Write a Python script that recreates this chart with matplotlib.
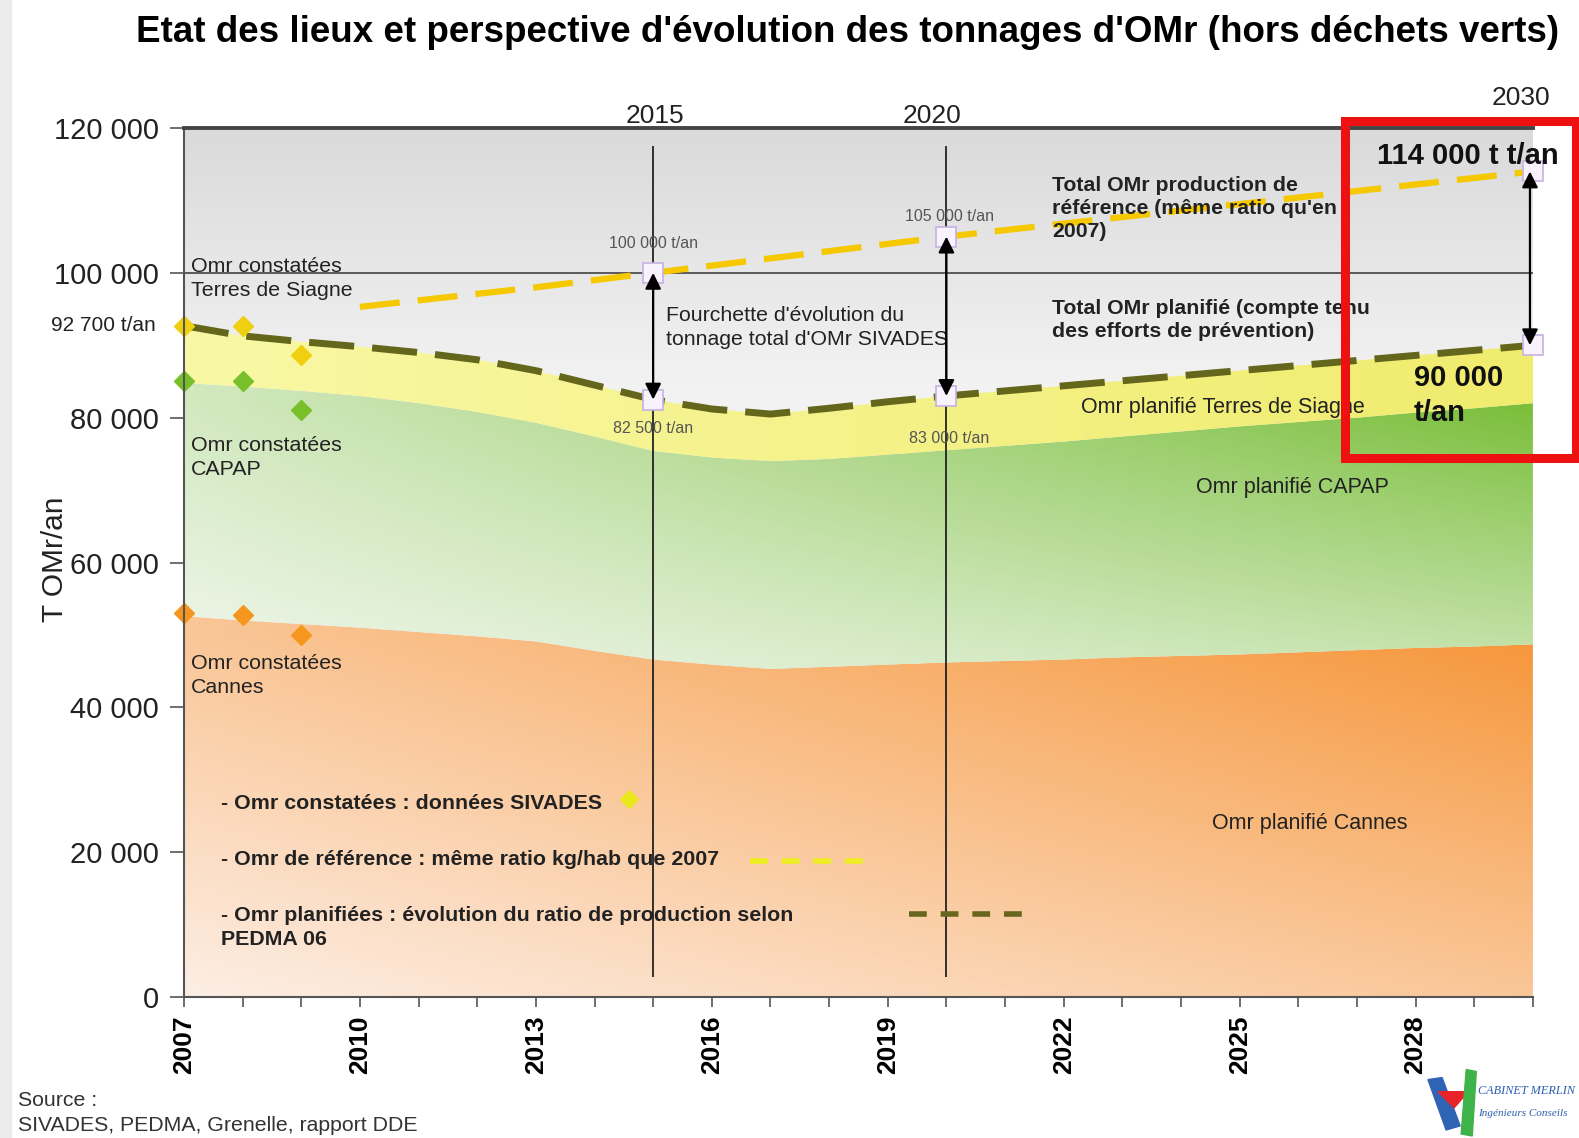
import numpy as np
import matplotlib
matplotlib.use("Agg")
import matplotlib.pyplot as plt
from matplotlib.patches import Rectangle, Polygon

plt.rcParams['font.family'] = ['Liberation Sans', 'DejaVu Sans']

# --- data ---
years = list(range(2007, 2031))
cannes = [52600, 52000, 51500, 51000, 50400, 49800, 49100, 47800, 46600, 45900, 45300, 45600,
          45900, 46200, 46400, 46600, 46900, 47100, 47300, 47600, 47900, 48200, 48400, 48700]
capap = [32200, 32300, 32200, 32000, 31600, 31000, 30200, 29600, 28800, 28600, 28700, 28700,
         29000, 29300, 29700, 30100, 30500, 31000, 31500, 31800, 32100, 32500, 32900, 33300]
terres = [7900, 7000, 6800, 6800, 7000, 7200, 7200, 7100, 7100, 6700, 6500, 7000,
          7300, 7500, 7600, 7700, 7700, 7700, 7700, 7800, 7900, 7900, 8000, 8000]

ref_years = list(range(2010, 2031))
reference = [95300, 96200, 97100, 98000, 99000, 100000, 101000, 102000, 103000, 104000, 105000,
             105900, 106800, 107700, 108600, 109500, 110400, 111300, 112200, 113100, 114000]

obs_years = [2007, 2008, 2009]
obs_total = [92700, 92600, 88600]
obs_capap = [85000, 85000, 81100]
obs_cannes = [53000, 52800, 50000]

key_years = [2015, 2015, 2020, 2020, 2030, 2030]
key_values = [100000, 82500, 105000, 83000, 114000, 90000]

y_ticks = [0, 20000, 40000, 60000, 80000, 100000, 120000]
y_labels = ["0", "20 000", "40 000", "60 000", "80 000", "100 000", "120 000"]
x_labels = [str(y) if (y - 2007) % 3 == 0 else "" for y in years]

c_top = np.array(cannes)
cap_top = c_top + np.array(capap)
tot_top = cap_top + np.array(terres)

fig = plt.figure(figsize=(15.79, 11.38), dpi=100)
fig.patches.append(Rectangle((0, 0), 0.007, 1, transform=fig.transFigure, color='#ececec', zorder=-1))
ax = fig.add_axes([0.1165, 0.1239, 0.8543, 0.7636])

# gradient fills
ext = [2007, 2030, 0, 120000]
gx, gy = np.meshgrid(np.linspace(2007, 2030, 240), np.linspace(0, 120000, 400))
v = (gx - 2007) / 23.0


def mix(light, dark, t):
    light = np.array(light) / 255.0
    dark = np.array(dark) / 255.0
    t = np.clip(t, 0, 1)[..., None]
    return light * (1 - t) + dark * t


def clipped_image(rgb, lower, upper, z):
    poly = ax.fill_between(years, lower, upper, facecolor='none', edgecolor='none')
    im = ax.imshow(rgb, extent=ext, origin='lower', aspect='auto', zorder=z, interpolation='bilinear')
    im.set_clip_path(poly.get_paths()[0], transform=ax.transData)


# background grey
tb = np.clip((gy - 85000) / 35000, 0, 1)
bg = mix((242, 242, 242), (218, 218, 218), tb)
ax.imshow(bg, extent=ext, origin='lower', aspect='auto', zorder=0, interpolation='bilinear')

u = np.clip(gy / 50000, 0, 1)
clipped_image(mix((253, 238, 228), (246, 150, 58), u * (0.45 + 0.55 * v) + 0.45 * v * (1 - u)),
              np.zeros(len(years)), c_top, 1)
u = np.clip((gy - 46000) / 36000, 0, 1)
clipped_image(mix((240, 247, 236), (122, 190, 58), u * (0.25 + 0.75 * v) + 0.35 * v * (1 - u)),
              c_top, cap_top, 1)
clipped_image(mix((249, 248, 165), (240, 236, 110), v), cap_top, tot_top, 1)

ax.axhline(100000, color='#333333', lw=1.1, zorder=2)

# lines
ax.plot(years, tot_top, color='#64661c', lw=5, dashes=(6.5, 2.6), zorder=4)
ax.plot(ref_years, reference, color='#f5c800', lw=4.5, dashes=(6.4, 2.9), zorder=4)

# observed points
ax.plot(obs_years, obs_total, 'D', color='#f0cf10', ms=10, zorder=5, clip_on=False)
ax.plot(obs_years, obs_capap, 'D', color='#78bf2a', ms=10, zorder=5, clip_on=False)
ax.plot(obs_years, obs_cannes, 'D', color='#f5961e', ms=10, zorder=5, clip_on=False)

# vertical markers and arrows
ax.vlines([2015, 2020], 2800, 117500, color='#222222', lw=1.3, zorder=5)
ax.plot(key_years, key_values, 's', ms=15, mfc='#f7f2fb', mec='#c6b2e4', mew=1.2, zorder=6, clip_on=False)
for i in range(0, 6, 2):
    xa = key_years[i] - (0.05 if key_years[i] == 2030 else 0)
    ax.annotate('', xy=(xa, key_values[i + 1]), xytext=(xa, key_values[i]),
                arrowprops=dict(arrowstyle='<|-|>', color='black', lw=1.6, mutation_scale=24,
                                shrinkA=0, shrinkB=0), zorder=7, annotation_clip=False)

# axes styling
ax.set_xlim(2007, 2030)
ax.set_ylim(0, 120000)
ax.set_xticks(years)
ax.set_xticklabels(x_labels, rotation=90, fontsize=19, fontweight='bold')
ax.set_yticks(y_ticks)
ax.set_yticklabels(y_labels, fontsize=21, color='#222222')
ax.tick_params(axis='x', length=7, width=1.2, color='#555555', pad=6)
ax.tick_params(axis='y', length=10, width=1.2, color='#555555', pad=8)
for s in ['left', 'bottom']:
    ax.spines[s].set_color('#555555')
    ax.spines[s].set_linewidth(1.5)
ax.spines['top'].set_color('#444444')
ax.spines['top'].set_linewidth(2.8)
ax.spines['right'].set_visible(False)
for s in ax.spines.values():
    s.set_zorder(8)

# texts
fig.text(0.537, 0.9717, "Etat des lieux et perspective d'évolution des tonnages d'OMr (hors déchets verts)",
         ha='center', va='center', fontsize=26.5, fontweight='bold')
fig.text(0.035, 0.509, "T OMr/an", rotation=90, ha='center', va='center', fontsize=21.5, color='#222222')
ax.text(2006.52, 92700, "92 700 t/an", ha='right', va='center', fontsize=15, color='#222222')

ax.text(2015.03, 121700, "2015", ha='center', va='center', fontsize=19, color='#222222')
ax.text(2019.75, 121700, "2020", ha='center', va='center', fontsize=19, color='#222222')
ax.text(2029.8, 124200, "2030", ha='center', va='center', fontsize=19, color='#222222')

small = dict(ha='center', va='center', fontsize=11.5, color='#555555', zorder=6)
ax.text(2015.0, 104000, "100 000 t/an", **small)
ax.text(2015.0, 78560, "82 500 t/an", **small)
ax.text(2020.05, 107760, "105 000 t/an", **small)
ax.text(2020.05, 77170, "83 000 t/an", **small)

ax.text(2015.22, 92460, "Fourchette d'évolution du\ntonnage total d'OMr SIVADES", ha='left', va='center',
        fontsize=15.3, linespacing=1.3, color='#222222', zorder=6)
ax.text(2021.8, 108900, "Total OMr production de\nréférence (même ratio qu'en\n2007)", ha='left', va='center',
        fontsize=15.3, fontweight='bold', linespacing=1.25, color='#222222', zorder=6)
ax.text(2021.8, 93500, "Total OMr planifié (compte tenu\ndes efforts de prévention)", ha='left', va='center',
        fontsize=15.3, fontweight='bold', linespacing=1.25, color='#222222', zorder=6)

ax.text(2024.71, 81340, "Omr planifié Terres de Siagne", ha='center', va='center', fontsize=15.5,
        color='#222222', zorder=6)
ax.text(2025.9, 70360, "Omr planifié CAPAP", ha='center', va='center', fontsize=15.5, color='#222222', zorder=6)
ax.text(2026.2, 23900, "Omr planifié Cannes", ha='center', va='center', fontsize=15.5, color='#222222', zorder=6)

left_lbl = dict(ha='left', va='center', fontsize=15.4, linespacing=1.3, color='#222222', zorder=6)
ax.text(2007.12, 99200, "Omr constatées\nTerres de Siagne", **left_lbl)
ax.text(2007.12, 74500, "Omr constatées\nCAPAP", **left_lbl)
ax.text(2007.12, 44420, "Omr constatées\nCannes", **left_lbl)

leg = dict(ha='left', va='center', fontsize=15.4, fontweight='bold', linespacing=1.3, color='#222222', zorder=6)
ax.text(2007.64, 26700, "- Omr constatées : données SIVADES", **leg)
ax.text(2007.64, 19050, "- Omr de référence : même ratio kg/hab que 2007", **leg)
ax.text(2007.64, 9590, "- Omr planifiées : évolution du ratio de production selon\nPEDMA 06", **leg)
ax.plot([2014.59], [27400], 'D', color='#e8e81a', ms=9, zorder=6)
ax.plot([2016.65, 2018.79], [18770, 18770], color='#eeee22', lw=4, dashes=(3.2, 2.5), zorder=6)
ax.plot([2019.36, 2021.45], [11400, 11400], color='#66661c', lw=4, dashes=(3.2, 2.5), zorder=6)

ax.text(2027.34, 116200, "114 000 t t/an", ha='left', va='center', fontsize=21, fontweight='bold',
        color='#111111', zorder=9)
ax.text(2027.97, 83100, "90 000\nt/an", ha='left', va='center', fontsize=21, fontweight='bold',
        linespacing=1.3, color='#111111', zorder=9)
ax.add_patch(Rectangle((2026.79, 74400), 3.95, 46570, fill=False, edgecolor='#ee1111', lw=6.5,
                       clip_on=False, zorder=10))

fig.text(0.0115, 0.0327, "Source :", ha='left', va='center', fontsize=15.3, color='#333333')
fig.text(0.0115, 0.0106, "SIVADES, PEDMA, Grenelle, rapport DDE", ha='left', va='center', fontsize=15.3,
         color='#333333')

# logo
W, H = 1568.0, 1130.0


def fp(pts):
    return [(x / W, 1 - y / H) for x, y in pts]


fig.patches.append(Polygon(fp([(1418, 1072), (1432, 1070), (1450, 1118), (1436, 1122)]),
                           closed=True, transform=fig.transFigure, color='#2f63b4'))
fig.patches.append(Polygon(fp([(1428, 1084), (1458, 1084), (1444, 1100)]),
                           closed=True, transform=fig.transFigure, color='#e8242a'))
fig.patches.append(Polygon(fp([(1456, 1062), (1466, 1064), (1462, 1128), (1451, 1126)]),
                           closed=True, transform=fig.transFigure, color='#3db34a'))
fig.text(1468 / W, 1 - 1083 / H, "CABINET MERLIN", ha='left', va='center', fontsize=8.8,
         family='Liberation Serif', style='italic', color='#2a5db0')
fig.text(1468 / W, 1 - 1106 / H, "Ingénieurs Conseils", ha='left', va='center', fontsize=8,
         family='Liberation Serif', style='italic', color='#2a5db0')

fig.savefig("out.png", dpi=100)
